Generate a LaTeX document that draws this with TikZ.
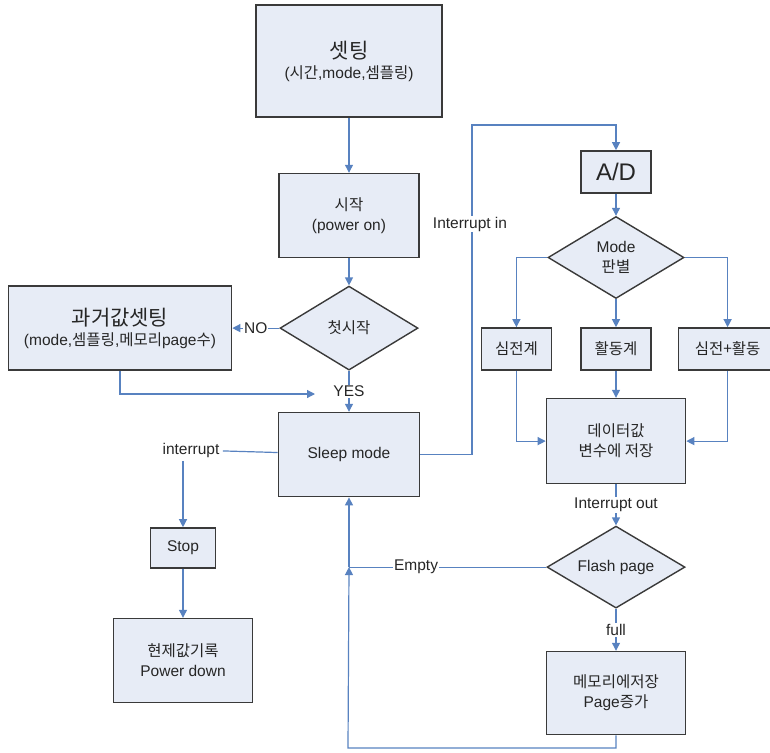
\documentclass[tikz,border=0pt]{standalone}
\usepackage{fontspec}
\setmainfont{Liberation Sans}
\newfontfamily\kr{Noto Sans CJK KR}
\usetikzlibrary{positioning,shapes.geometric,arrows.meta}
\definecolor{boxfill}{RGB}{231,236,246}
\definecolor{boxline}{RGB}{58,58,58}
\definecolor{linkblue}{RGB}{88,130,192}
\newcommand\bigfont{\fontsize{21}{26}\selectfont}

\begin{document}
\begin{tikzpicture}[
    x=1pt, y=-1pt,
    font=\fontsize{15.5}{20}\selectfont,
    text=black!85,
    % Node styles
    box/.style={draw=boxline, line width=1.6pt, fill=boxfill, align=center, inner sep=2pt},
    decision/.style={diamond, aspect=1.65, draw=boxline, line width=1.4pt, fill=boxfill, align=center, inner sep=1pt},
    tag/.style={fill=white, inner sep=1pt},
    arrow/.style={-{Triangle[width=8pt,length=8pt]}, line width=1.2pt, draw=linkblue},
    link/.style={line width=1.2pt, draw=linkblue},
]
    \clip (0,0) rectangle (770,752);

    % Start-up column
    \node[box, minimum width=186pt, minimum height=112pt] (setting) at (349,61) {{\kr\bigfont 셋팅}\\({\kr 시간},mode,{\kr 셈플링})};
    \node[box, minimum width=140pt, minimum height=84pt, below=55pt of setting] (start) {{\kr 시작}\\(power on)};
    \node[decision, minimum width=138pt, minimum height=84pt, below=27pt of start] (first) {\kr 첫시작};
    \node[box, minimum width=141pt, minimum height=84pt, below=41pt of first] (sleep) {Sleep mode};
    \node[box, minimum width=223pt, minimum height=84pt, left=47pt of first] (past) {{\kr\bigfont 과거값셋팅}\\(mode,{\kr 셈플링},{\kr 메모리}page{\kr 수})};

    % Stop branch
    \node (intr) at (191,450) {interrupt};
    \node[box, minimum width=65pt, minimum height=40pt] (stop) at (183,548) {Stop};
    \node[box, minimum width=139pt, minimum height=84pt, below=49pt of stop] (down) {{\kr 현제값기록}\\Power down};

    % Measuring column
    \node[box, minimum width=70pt, minimum height=42pt] (ad) at (616,172) {\fontsize{24}{28}\selectfont A/D};
    \node[decision, minimum width=136pt, minimum height=82pt, below=22pt of ad] (mode) {Mode\\{\kr 판별}};
    \node[box, minimum width=70pt, minimum height=42pt, below=28pt of mode] (act) {\kr 활동계};
    \node[box, minimum width=70pt, minimum height=42pt, left=28pt of act] (ecg) {\kr 심전계};
    \node[box, minimum width=98pt, minimum height=42pt, right=26pt of act] (both) {\kr 심전+활동};
    \node[box, minimum width=139pt, minimum height=85pt, below=27pt of act] (data) {{\kr 데이터값}\\{\kr 변수에 저장}};
    \node[decision, minimum width=138pt, minimum height=82pt, below=41pt of data] (flash) {Flash page};
    \node[box, minimum width=139pt, minimum height=83pt, below=42pt of flash] (mem) {{\kr 메모리에저장}\\Page{\kr 증가}};

    % Connections
    \draw[arrow] (setting) -- (start);
    \draw[arrow] (start) -- (first);
    \draw[arrow] (first) -- node[tag]{NO} (past);
    \draw[arrow] (first) -- node[tag]{YES} (sleep);
    \coordinate (pastend) at (315,394);
    \draw[arrow] (past) |- (pastend);
    \draw[link] (sleep) -- (intr);
    \draw[arrow] (intr.south -| stop.north) -- (stop);
    \draw[arrow] (stop) -- (down);

    \coordinate (turn) at (472,125);
    \draw[arrow] (sleep) -| (turn) -| (ad);
    \node[tag] (intin) at (470,224) {Interrupt in};
    \draw[arrow] (ad) -- (mode);
    \draw[arrow] (mode) -| (ecg);
    \draw[arrow] (mode) -- (act);
    \draw[arrow] (mode) -| (both);
    \draw[arrow] (ecg) |- (data);
    \draw[arrow] (act) -- (data);
    \draw[arrow] (both) |- (data);
    \draw[arrow] (data) -- node[tag]{Interrupt out} (flash);
    \draw[arrow] (flash) -- node[tag]{full} (mem);

    % Back to sleep
    \coordinate (join) at (sleep.south |- flash.west);
    \coordinate (low) at (348,748);
    \draw[link] (flash) -- node[tag, pos=0.66]{Empty} (join);
    \draw[arrow] (join) -- (sleep);
    \draw[arrow] (mem) |- (low) -- (join);

\end{tikzpicture}
\end{document}
